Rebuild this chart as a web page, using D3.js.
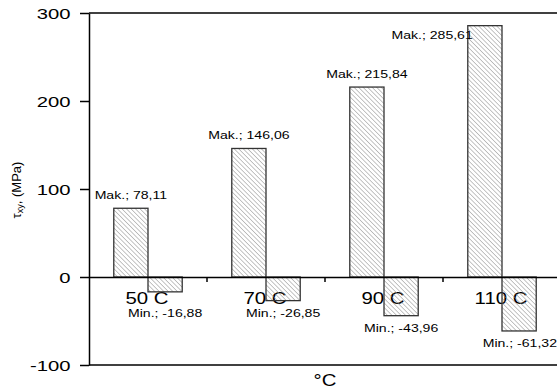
<!DOCTYPE html>
<html lang="en">
<head>
<meta charset="UTF-8">
<title>Tau xy</title>
<script src="https://d3js.org/d3.v7.min.js"></script>
<style>
  body { margin: 0; background: #fff; }
  text { font-family: "Liberation Sans", Arial, sans-serif; fill: #000; }
</style>
</head>
<body>
<div id="chart"></div>
<script>
    // data
    let categories = ['50 C', '70 C', '90 C', '110 C'],
        series = ['Mak.', 'Min.'],
        makValues = [78.11, 146.06, 215.84, 285.61],
        minValues = [-16.88, -26.85, -43.96, -61.32],
        yTicks = [-100, 0, 100, 200, 300];

    let W = 557, H = 392,
        m = {left: 89, top: 13, right: 561, bottom: 365},
        loc = d3.formatLocale({decimal: ',', thousands: '.', grouping: [3], currency: ['', ''], minus: '-'}),
        fmt = loc.format('.2f'), fmtTick = loc.format('d');

    let svg = d3.select('#chart').append('svg').attr('width', W).attr('height', H);

    // hatch pattern (\\\)
    let pat = svg.append('defs').append('pattern')
        .attr('id', 'hatch').attr('patternUnits', 'userSpaceOnUse')
        .attr('width', 3.2).attr('height', 3.2)
        .attr('patternTransform', 'rotate(-45)');
    pat.append('line').attr('x1', 0).attr('y1', 0).attr('x2', 0).attr('y2', 3.2)
        .style('stroke', '#8a8a8a').style('stroke-width', 1);

    let x = d3.scaleBand().domain(categories).range([m.left, m.right]),
        xs = d3.scaleBand().domain(series).range([x.bandwidth() * 0.21, x.bandwidth() * 0.79]),
        y = d3.scaleLinear().domain([-100, 300]).range([m.bottom, m.top]);

    let rows = categories.map((c, i) => ({c: c, vals: [
        {s: 'Mak.', v: makValues[i]}, {s: 'Min.', v: minValues[i]}]}));

    // text is a bit wider than normal in the picture
    function wideText(sel, px, py, str, size, sx, anchor) {
        return sel.append('text')
            .attr('transform', 'translate(' + px + ',' + py + ') scale(' + sx + ',1)')
            .attr('text-anchor', anchor || 'middle')
            .style('font-size', size + 'px')
            .text(str);
    }

    // frame
    svg.append('line').attr('x1', m.left).attr('x2', m.right).attr('y1', m.top).attr('y2', m.top)
        .style('stroke', '#000').style('stroke-width', 1.5);
    svg.append('line').attr('x1', m.left).attr('x2', m.right).attr('y1', m.bottom).attr('y2', m.bottom)
        .style('stroke', '#000').style('stroke-width', 1.5);

    // y axis
    let yAxis = svg.append('g').attr('transform', 'translate(' + m.left + ',0)')
        .call(d3.axisLeft(y).tickValues(yTicks).tickSize(9).tickSizeOuter(0).tickFormat(''));
    yAxis.select('.domain').style('stroke-width', 1.5);
    yAxis.selectAll('.tick line').style('stroke-width', 1.5);
    yTicks.forEach(t => wideText(svg, 70.5, y(t) + 5.5, fmtTick(t), 15, 1.35, 'end'));

    // category labels (under the bars)
    categories.forEach(c => wideText(svg, x(c) + x.bandwidth() / 2 - 1, y(0) + 27, c, 17, 1.2));

    // bars
    let g = svg.selectAll('.grp').data(rows).enter().append('g')
        .attr('transform', d => 'translate(' + x(d.c) + ',0)');
    g.selectAll('rect').data(d => d.vals).enter().append('rect')
        .attr('x', d => xs(d.s))
        .attr('width', xs.bandwidth())
        .attr('y', d => y(Math.max(0, d.v)))
        .attr('height', d => Math.abs(y(d.v) - y(0)))
        .style('fill', 'url(#hatch)')
        .style('stroke', '#333').style('stroke-width', 1.3);

    // zero line with category ticks
    let xAxis = svg.append('g').attr('transform', 'translate(0,' + y(0) + ')')
        .call(d3.axisBottom(x).tickSize(5).tickSizeOuter(0).tickFormat(''));
    xAxis.select('.domain').style('stroke-width', 1.5);
    xAxis.selectAll('.tick').attr('transform', d => 'translate(' + x(d) + ',0)');
    xAxis.selectAll('.tick line').style('stroke-width', 1.5);
    xAxis.selectAll('.tick').filter((d, i) => i == 0).remove();

    // data labels
    rows.forEach(r => {
        r.vals.forEach(d => {
            let x0 = x(r.c) + xs(d.s), cx = x0 + xs.bandwidth() / 2,
                str = d.s + '; ' + fmt(d.v), sx = 1.28, size = 11;
            if (d.v > 0) {
                if (y(d.v) - 20 < m.top) {
                    // no room above: pushed to the left, inside
                    wideText(svg, x0 + 5, y(d.v) + 13, str, size, sx, 'end');
                } else {
                    wideText(svg, cx, y(d.v) - 9, str, size, sx);
                }
            } else {
                let ty = Math.max(y(d.v) + 16.5, y(0) + 39.5),
                    half = str.length * 3.5 * sx;
                if (cx + half > W) wideText(svg, W, ty, str, size, sx, 'end');
                else wideText(svg, cx, ty, str, size, sx);
            }
        });
    });

    // axis titles
    wideText(svg, 325, 386, '°C', 17, 1.2);
    let yt = svg.append('text')
        .attr('transform', 'translate(21,' + 190 + ') rotate(-90)')
        .attr('text-anchor', 'middle').style('font-size', '13px');
    yt.append('tspan').text('τ');
    yt.append('tspan').style('font-size', '9px').attr('dy', 2).text('xy');
    yt.append('tspan').attr('dy', -2).text(', (MPa)');
</script>
</body>
</html>
